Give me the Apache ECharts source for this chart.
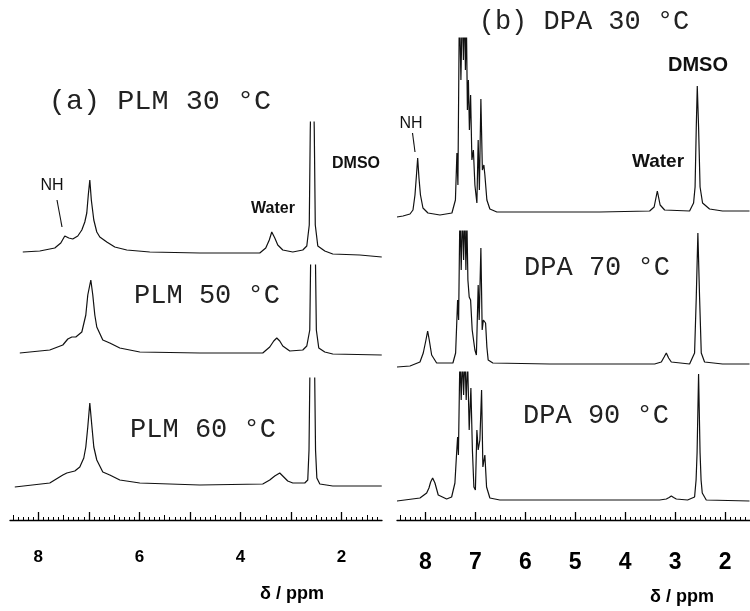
<!DOCTYPE html>
<html><head><meta charset="utf-8">
<script src="https://cdn.jsdelivr.net/npm/echarts@6/dist/echarts.min.js"></script>
<style>html,body{margin:0;padding:0;background:#fff}#c{width:750px;height:611px}</style>
</head><body><div id="c"></div>
<script>
// ---- data: [chemical shift (ppm), intensity] ----
const plm30 = [[8.307,8],[7.970,9],[7.674,12],[7.555,17],[7.476,24],[7.397,22],[7.318,21],[7.219,24],[7.139,30],[7.080,38],[7.041,47],[7.011,65],[6.981,80],[6.951,60],[6.902,40],[6.843,28],[6.783,23],[6.645,18],[6.487,13],[6.249,10],[5.794,8],[4.805,7],[3.618,7],[3.500,12],[3.430,20],[3.381,28],[3.321,22],[3.262,15],[3.163,10],[2.965,8],[2.767,10],[2.688,14],[2.639,35],[2.619,130],[2.579,240],[2.540,130],[2.520,35],[2.470,14],[2.332,9],[2.174,6],[1.640,5],[1.205,3]];
const plm50 = [[8.366,7],[7.773,10],[7.515,15],[7.416,21],[7.337,23],[7.258,23],[7.139,28],[7.060,45],[7.021,65],[6.961,80],[6.922,65],[6.882,45],[6.843,33],[6.724,20],[6.586,17],[6.388,12],[5.992,8],[4.805,7],[3.559,7],[3.421,13],[3.342,19],[3.282,22],[3.223,19],[3.163,14],[3.025,9],[2.767,10],[2.688,14],[2.629,30],[2.609,110],[2.564,230],[2.519,110],[2.499,30],[2.451,12],[2.332,8],[2.174,6],[1.205,5]];
const plm60 = [[8.465,3],[7.773,7],[7.515,15],[7.436,17],[7.278,19],[7.179,23],[7.100,32],[7.060,43],[7.021,63],[6.981,87],[6.942,65],[6.902,43],[6.843,30],[6.724,18],[6.586,15],[6.388,10],[5.992,7],[4.805,5],[3.559,6],[3.421,10],[3.322,14],[3.223,17],[3.144,13],[3.065,9],[2.965,7],[2.728,7],[2.669,10],[2.644,40],[2.626,120],[2.579,230],[2.533,120],[2.515,40],[2.489,12],[2.430,6],[2.174,4],[1.205,4]];
const dpa30 = [[8.570,3],[8.450,4],[8.310,6],[8.250,10],[8.210,25],[8.180,45],[8.156,62],[8.130,42],[8.100,25],[8.050,12],[7.950,7],[7.710,5],[7.470,7],[7.400,20],[7.370,67],[7.350,35],[7.320,220],[7.290,140],[7.260,220],[7.240,160],[7.220,220],[7.200,150],[7.180,200],[7.160,110],[7.140,140],[7.120,90],[7.096,125],[7.070,60],[7.040,70],[7.010,35],[6.970,17],[6.944,80],[6.920,30],[6.890,121],[6.860,50],[6.830,55],[6.810,45],[6.770,20],[6.710,11],[6.570,8],[6.110,8],[4.510,8],[3.510,9],[3.420,13],[3.356,29],[3.300,15],[3.210,10],[2.710,9],[2.630,17],[2.600,33],[2.576,93],[2.556,134],[2.530,93],[2.500,33],[2.450,17],[2.310,11],[2.050,9],[1.510,9]];
const dpa70 = [[8.570,3],[8.310,4],[8.110,8],[8.044,17],[7.990,30],[7.956,39],[7.924,30],[7.876,15],[7.776,7],[7.450,7],[7.396,17],[7.356,70],[7.336,50],[7.310,160],[7.284,100],[7.260,160],[7.236,110],[7.210,160],[7.190,100],[7.170,150],[7.150,90],[7.124,73],[7.096,70],[7.064,40],[7.010,20],[6.980,15],[6.944,85],[6.924,50],[6.890,122],[6.864,40],[6.840,50],[6.796,47],[6.770,23],[6.744,10],[6.650,7],[5.510,6],[3.410,6],[3.276,8],[3.220,13],[3.176,17],[3.130,12],[3.076,8],[2.710,6],[2.610,17],[2.576,73],[2.544,137],[2.510,73],[2.476,17],[2.410,8],[2.050,6],[1.510,6]];
const dpa90 = [[8.570,4],[8.110,7],[7.976,12],[7.930,17],[7.896,23],[7.856,27],[7.810,22],[7.744,10],[7.576,6],[7.476,8],[7.410,22],[7.376,52],[7.356,68],[7.340,50],[7.310,150],[7.284,105],[7.260,150],[7.236,110],[7.210,150],[7.184,105],[7.156,145],[7.124,75],[7.090,117],[7.060,55],[7.030,18],[7.000,15],[6.970,75],[6.944,55],[6.910,65],[6.876,115],[6.850,38],[6.810,50],[6.776,18],[6.710,7],[6.510,5],[4.510,5],[3.310,5],[3.176,6],[3.120,7.5],[3.076,9],[3.030,7.5],[2.976,6],[2.750,5],[2.610,8],[2.580,25],[2.560,52],[2.530,131],[2.500,52],[2.480,25],[2.456,12],[2.376,5],[1.510,4]];

const leftMajorTicks = [2,3,4,5,6,7,8];
const leftTickLabels = [2,4,6,8];
const rightMajorTicks = [2,3,4,5,6,7,8];
const rightTickLabels = [2,3,4,5,6,7,8];

const leftTitles = ['(a) PLM 30 \u00B0C','PLM 50 \u00B0C','PLM 60 \u00B0C'];
const rightTitles = ['(b) DPA 30 \u00B0C','DPA 70 \u00B0C','DPA 90 \u00B0C'];

// ---- layout ----
const L = {left:10, width:372, min:1.2, max:8.56};
const R = {left:397, width:353, min:1.5, max:8.57};
const leftGrids = [{top:122,h:138},{top:265,h:95},{top:378,h:112}];
const rightGrids = [{top:38,h:182},{top:231,h:139},{top:372,h:133}];

function tenths(lo, hi, keep){ const a=[]; for(let i=lo;i<=hi;i++){ if(keep(i)) a.push(i/10);} return a; }

const grid=[], xAxis=[], yAxis=[], series=[];
function addSpectrum(P, g, data){
  const gi = grid.length;
  grid.push({left:P.left, width:P.width, top:g.top, height:g.h});
  xAxis.push({type:'value', gridIndex:gi, min:P.min, max:P.max, inverse:true, show:false});
  yAxis.push({type:'value', gridIndex:gi, min:0, max:g.h, show:false});
  series.push({type:'line', xAxisIndex:xAxis.length-1, yAxisIndex:yAxis.length-1, data:data,
    showSymbol:false, symbol:'none', clip:true, animation:false, silent:true,
    lineStyle:{color:'#111', width:1.2}});
}
function addAxis(P, majors, labels, labelFont, margin){
  const gi = grid.length;
  grid.push({left:P.left, width:P.width, top:500, height:20});
  yAxis.push({type:'value', gridIndex:gi, min:0, max:1, show:false});
  const lo = Math.round(P.min*10)+1, hi = Math.round(P.max*10)-1;
  const base = {type:'value', gridIndex:gi, min:P.min, max:P.max, inverse:true, position:'bottom', splitLine:{show:false}};
  xAxis.push(Object.assign({}, base, {
    axisLine:{show:true, onZero:false, lineStyle:{color:'#000', width:1.3}},
    axisTick:{show:true, inside:true, length:8, customValues:majors, lineStyle:{color:'#000', width:1.3}},
    axisLabel:{show:true, customValues:labels, margin:margin, color:'#000', fontFamily:'Liberation Sans', fontWeight:'bold', fontSize:labelFont}
  }));
  xAxis.push(Object.assign({}, base, {
    axisLine:{show:false, onZero:false},
    axisTick:{show:true, inside:true, length:5, customValues:tenths(lo,hi,i=>i%5===0&&i%10!==0), lineStyle:{color:'#000', width:1}},
    axisLabel:{show:false}
  }));
  xAxis.push(Object.assign({}, base, {
    axisLine:{show:false, onZero:false},
    axisTick:{show:true, inside:true, length:3, customValues:tenths(lo,hi,i=>i%5!==0), lineStyle:{color:'#000', width:1}},
    axisLabel:{show:false}
  }));
}

addSpectrum(L, leftGrids[0], plm30);
addSpectrum(L, leftGrids[1], plm50);
addSpectrum(L, leftGrids[2], plm60);
addAxis(L, leftMajorTicks, leftTickLabels, 17, 29);
addSpectrum(R, rightGrids[0], dpa30);
addSpectrum(R, rightGrids[1], dpa70);
addSpectrum(R, rightGrids[2], dpa90);
addAxis(R, rightMajorTicks, rightTickLabels, 23, 31);

function txt(t, x, y, font, color){
  return {type:'text', x:x, y:y, silent:true, style:{text:t, font:font, fill:color||'#111', align:'center', verticalAlign:'middle'}};
}
const mono = '27px "Liberation Mono"';
const graphic = [
  txt(leftTitles[0], 160, 101, '28.5px "Liberation Mono"', '#222'),
  txt(leftTitles[1], 207, 296, mono, '#222'),
  txt(leftTitles[2], 203, 430, mono, '#222'),
  txt(rightTitles[0], 584, 22, mono, '#222'),
  txt(rightTitles[1], 597, 268, mono, '#222'),
  txt(rightTitles[2], 596, 416, mono, '#222'),
  txt('NH', 52, 186, '16px "Liberation Sans"'),
  txt('Water', 273, 209, 'bold 16px "Liberation Sans"'),
  txt('DMSO', 356, 164, 'bold 16px "Liberation Sans"'),
  txt('NH', 411, 124, '16px "Liberation Sans"'),
  txt('Water', 658, 162, 'bold 19px "Liberation Sans"'),
  txt('DMSO', 698, 65, 'bold 20px "Liberation Sans"'),
  txt('\u03B4 / ppm', 292, 594, 'bold 18px "Liberation Sans"', '#000'),
  txt('\u03B4 / ppm', 682, 597, 'bold 18px "Liberation Sans"', '#000'),
  {type:'line', silent:true, shape:{x1:57,y1:200,x2:62,y2:227}, style:{stroke:'#111', lineWidth:1.1}},
  {type:'line', silent:true, shape:{x1:412.5,y1:133,x2:415,y2:152}, style:{stroke:'#111', lineWidth:1.1}}
];

const chart = echarts.init(document.getElementById('c'), null, {renderer:'canvas'});
chart.setOption({animation:false, backgroundColor:'#fff', grid, xAxis, yAxis, series, graphic});
</script>
</body></html>
